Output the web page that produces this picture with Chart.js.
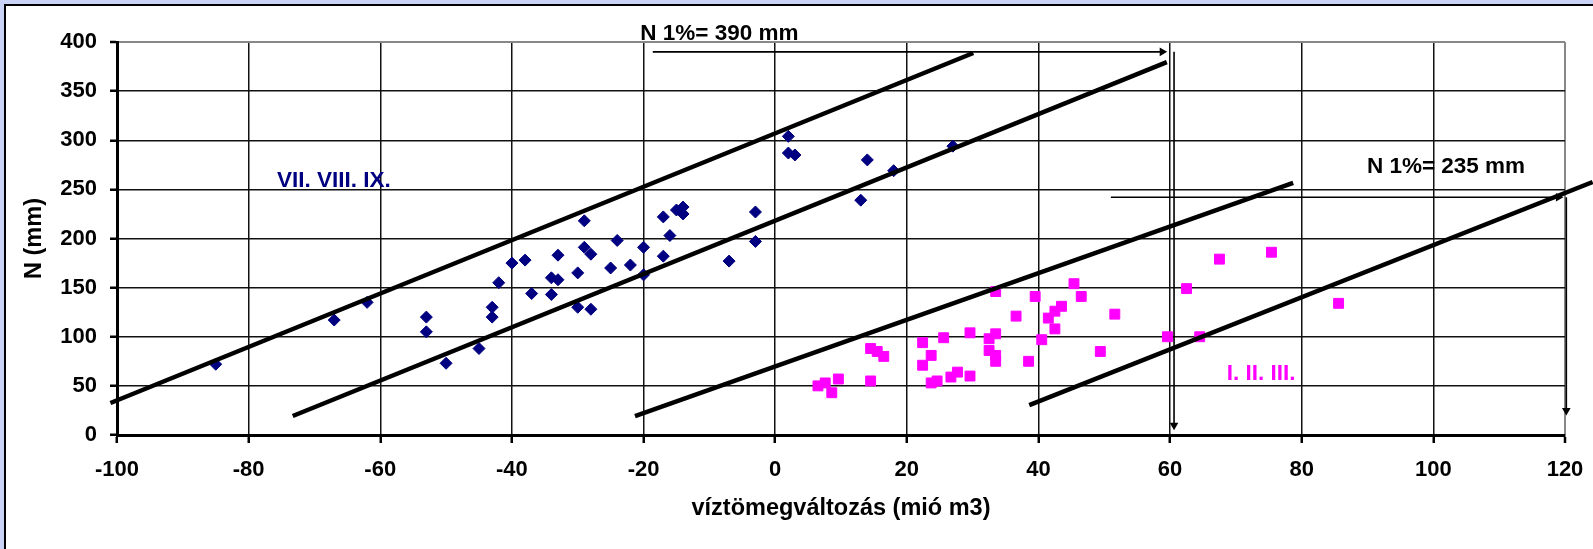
<!DOCTYPE html>
<html>
<head>
<meta charset="utf-8">
<script src="https://cdn.jsdelivr.net/npm/chart.js@4.4.1/dist/chart.umd.min.js"></script>
<style>
  html, body { margin: 0; padding: 0; }
  body { width: 1593px; height: 549px; background: #c9d3f7; position: relative; overflow: hidden; }
  #panel { position: absolute; left: 4px; top: 4px; right: 0; bottom: 0; background: #fff; border-left: 2px solid #000; border-top: 2px solid #000; }
  #wrap { position: absolute; left: 0; top: 0; width: 1593px; height: 549px; }
</style>
</head>
<body>
<div id="panel"></div>
<div id="wrap"><canvas id="chart"></canvas></div>
<script>
// VII. VIII. IX. (kék rombuszok)
const summerX = [-85, -67, -62, -53, -53, -50, -45, -43, -43, -42, -40, -38, -37, -34, -34, -33, -33, -30, -30, -29,
    -29, -28, -28, -25, -24, -22, -20, -20, -17, -17, -16, -15, -14, -14, -7, -3, -3, 2, 2, 3, 13, 14, 18, 27];
const summerY = [72, 117, 135, 120, 105, 73, 88, 130, 120, 155, 175, 178, 144, 160, 143, 183, 158, 165, 130, 218,
    191, 184, 128, 170, 198, 173, 191, 163, 222, 182, 203, 229, 232, 225, 177, 227, 197, 304, 287, 285, 239, 280, 269, 294];

// I. II. III. (lila négyzetek)
const winterX = [6.5, 7.6, 8.6, 9.6, 14.5, 14.5, 15.5, 16.5, 22.4, 22.4, 23.7, 23.7, 24.6, 25.6, 26.7, 27.7, 29.6, 29.6, 32.5, 32.5,
    33.5, 33.5, 33.5, 33.5, 36.6, 38.5, 39.5, 40.5, 41.5, 42.5, 42.5, 43.5, 45.4, 46.5, 49.4, 51.6, 59.6, 62.5, 64.5, 67.5, 75.4, 85.6];
const winterY = [50, 53, 43, 57, 88, 55, 85, 80, 94, 71, 81, 53, 55, 99, 59, 64, 104, 60, 98, 86,
    103, 81, 75, 146, 121, 75, 141, 97, 119, 126, 108, 131, 154, 141, 85, 123, 100, 149, 100, 179, 186, 134];

// burkoló egyenesek (kezdő és végpont)
const envelopeLines = [
    [[-101, 32.6], [30.1, 388.8]],
    [[-73.3, 19.3], [59.5, 379.6]],
    [[-21.3, 19.3], [78.7, 256.5]],
    [[38.6, 30.5], [124.2, 257.5]]
];

// N 1% nyilak
const arrow390H = [[-18.6, 390], [58.8, 390]];
const arrow390V = [[60.6, 390], [60.6, 10]];
const arrow235H = [[51, 242], [119, 242]];
const arrow235V = [[120.2, 242], [120.2, 25]];

const xTicks = [-100, -80, -60, -40, -20, 0, 20, 40, 60, 80, 100, 120];
const yTicks = [0, 50, 100, 150, 200, 250, 300, 350, 400];

const labels = [
    { text: 'N 1%= 390 mm', x: -20.5, y: 408, color: '#000' },
    { text: 'N 1%= 235 mm', x: 89.9, y: 272.8, color: '#000' },
    { text: 'VII. VIII. IX.', x: -75.7, y: 259.2, color: '#000080' },
    { text: 'I. II. III.', x: 68.6, y: 62, color: '#FF00FF' }
];

const FONT = '"Liberation Sans", Arial, sans-serif';
const toPts = arr => arr.map(p => ({ x: p[0], y: p[1] }));

const lineSets = envelopeLines.map(l => ({
    data: toPts(l), showLine: true, borderColor: '#000', borderWidth: 4.5,
    pointRadius: 0, clip: false
}));

function arrow(pts, rot) {
    return {
        data: toPts(pts), showLine: true, borderColor: '#000', borderWidth: 1.6,
        pointStyle: 'triangle', pointRadius: [0, 5], pointRotation: [0, rot],
        pointBackgroundColor: '#000', pointBorderWidth: 0, clip: false
    };
}

const labelPlugin = {
    id: 'textLabels',
    afterDatasetsDraw(chart) {
        const { ctx, scales: { x, y } } = chart;
        ctx.save();
        ctx.textAlign = 'left';
        ctx.textBaseline = 'middle';
        labels.forEach(l => {
            ctx.font = 'bold 22.5px ' + FONT;
            ctx.fillStyle = l.color;
            ctx.fillText(l.text, x.getPixelForValue(l.x), y.getPixelForValue(l.y));
        });
        ctx.restore();
    }
};

new Chart(document.getElementById('chart'), {
    type: 'scatter',
    data: {
        datasets: [
            ...lineSets,
            arrow(arrow390H, 90), arrow(arrow390V, 180),
            arrow(arrow235H, 90), arrow(arrow235V, 180),
            {
                label: 'VII. VIII. IX.',
                data: summerX.map((v, i) => ({ x: v, y: summerY[i] })),
                pointStyle: 'rectRot', pointRadius: 6, pointBorderWidth: 1,
                pointBackgroundColor: '#000080', pointBorderColor: '#000080'
            },
            {
                label: 'I. II. III.',
                data: winterX.map((v, i) => ({ x: v, y: winterY[i] })),
                pointStyle: 'rect', pointRadius: 7, pointBorderWidth: 1,
                pointBackgroundColor: '#FF00FF', pointBorderColor: '#FF00FF'
            }
        ]
    },
    options: {
        responsive: true, maintainAspectRatio: false, animation: false, events: [],
        layout: { padding: { left: 0, top: 42, right: 28, bottom: 0 } },
        plugins: { legend: { display: false }, tooltip: { enabled: false } },
        scales: {
            x: {
                type: 'linear', min: -100, max: 120,
                afterFit: s => { s.height = 114; s.paddingLeft = 0; s.paddingRight = 0; },
                afterBuildTicks: s => { s.ticks = xTicks.map(v => ({ value: v })); },
                ticks: { color: '#000', font: { family: FONT, size: 22, weight: 'bold' }, padding: 14, maxRotation: 0 },
                grid: {
                    color: c => c.tick && c.tick.value === 120 ? '#888' : '#111',
                    lineWidth: c => c.tick && c.tick.value === 120 ? 2 : 1.5,
                    tickLength: 8, tickWidth: 2.5, tickColor: '#000'
                },
                border: { color: '#000', width: 3 },
                title: {
                    display: true, text: 'víztömegváltozás (mió m3)', color: '#000',
                    font: { family: FONT, size: 23.5, weight: 'bold' }, padding: { top: 0, bottom: 26 }
                }
            },
            y: {
                type: 'linear', min: 0, max: 400,
                afterFit: s => { s.width = 117; s.paddingTop = 0; s.paddingBottom = 0; },
                afterBuildTicks: s => { s.ticks = yTicks.map(v => ({ value: v })); },
                ticks: { color: '#000', font: { family: FONT, size: 22, weight: 'bold' }, padding: 13 },
                grid: {
                    color: c => c.tick && c.tick.value === 400 ? '#888' : '#111',
                    lineWidth: c => c.tick && c.tick.value === 400 ? 2 : 1.5,
                    tickLength: 7, tickWidth: 2.5, tickColor: '#000'
                },
                border: { color: '#000', width: 3 },
                title: {
                    display: true, text: 'N (mm)', color: '#000',
                    font: { family: FONT, size: 23.5, weight: 'bold' }, padding: { top: 20, bottom: 0 }
                }
            }
        }
    },
    plugins: [labelPlugin]
});
</script>
</body>
</html>
